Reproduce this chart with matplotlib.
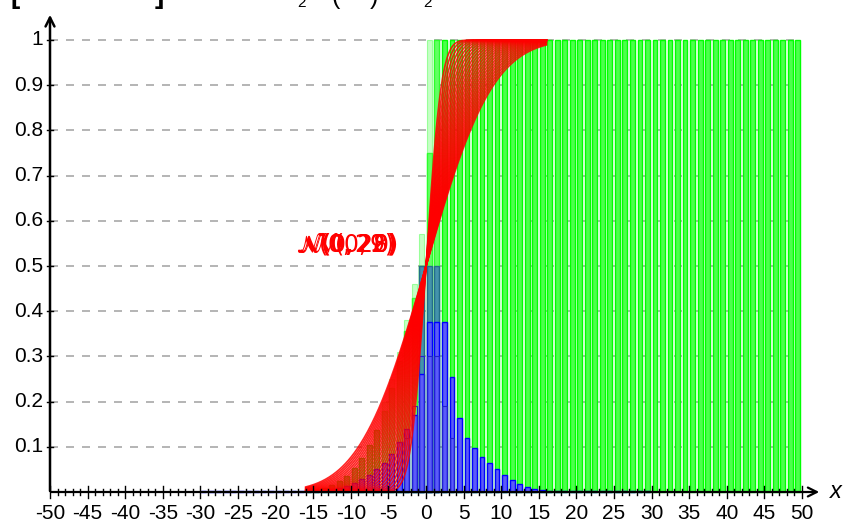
#!/usr/bin/env python3

import math
import matplotlib
matplotlib.use("Agg")
import matplotlib.pyplot as plt
import numpy as np

plt.rcParams["font.family"] = ["Liberation Sans", "DejaVu Sans"]

# ---- data ----
# green (cumulative) bars, k = -16 .. 49
green_k = list(range(-16, 50))
green_h = [0.003, 0.005, 0.009, 0.015, 0.024, 0.036, 0.052, 0.075, 0.103,
           0.138, 0.18, 0.23, 0.29, 0.356, 0.43, 0.5, 0.75] + [1.0] * 49
# paler upper frames of the green bars
green_pale_k = [-6, -5, -4, -3, -2, -1, 0, 1]
green_pale_h = [0.2, 0.25, 0.31, 0.38, 0.46, 0.57, 1.0, 1.0]

# blue (probability) bars, k = -30 .. 29
blue_k = list(range(-30, 30))
blue_h = ([0.002] * 14 +
          [0.002, 0.003, 0.004, 0.006, 0.009, 0.013, 0.02, 0.028, 0.037, 0.05,
           0.065, 0.085, 0.11, 0.14, 0.17, 0.26, 0.377, 0.377, 0.377, 0.255,
           0.164, 0.12, 0.097, 0.078, 0.064, 0.05, 0.037, 0.027, 0.018, 0.012,
           0.0066, 0.0044, 0.003, 0.002] +
          [0.002] * 12)
# teal top of the centre bars (frames reaching 0.5)
blue_top_k = [-1, 0, 1]
blue_top_h = [0.5, 0.5, 0.5]
# lower frames inside the blue bars
blue_inner_k = [-3, -2, -1, 0, 1, 2, 3]
blue_inner_h = [0.12, 0.19, 0.3, 0.3, 0.3, 0.19, 0.12]

# standard deviations of the drawn normal CDF curves
sigmas = [1.6, 1.8, 2.0, 2.2, 2.4, 2.6, 2.8, 3.0, 3.2, 3.4, 3.6, 3.8, 4.0,
          4.2, 4.4, 4.6, 4.8, 5.0, 5.2, 5.4, 5.6, 5.8, 6.0, 6.2, 6.4, 6.6,
          6.8, 7.0]
curve_range = (-16, 16)

labels = [r"$\mathcal{N}(0,20)$", r"$\mathcal{N}(0,28)$", r"$\mathcal{N}(0,2)$",
          r"$\mathcal{N}(0,29)$"]

x_ticks = list(range(-50, 51, 5))
y_ticks = [0.1, 0.2, 0.3, 0.4, 0.5, 0.6, 0.7, 0.8, 0.9, 1.0]

# ---- figure: one axes filling the whole canvas, axes drawn by hand ----
W, H = 843, 524
PX = 7.52      # pixels per x unit
PY = 452.0     # pixels per y unit
X0, Y0 = 426, 492

fig = plt.figure(figsize=(W / 100, H / 100), dpi=100)
ax = fig.add_axes([0, 0, 1, 1])
ax.set_xlim(-X0 / PX, (W - X0) / PX)
ax.set_ylim(-(H - Y0) / PY, Y0 / PY)
ax.axis("off")

# grid
for y in y_ticks:
    ax.plot([-50, 50], [y, y], color="#a8a8a8", lw=1.2,
            linestyle=(0, (4.8, 4.8)), zorder=1)

off = 0.45
wid = 0.64
ax.bar(np.array(green_k) + off, green_h, width=wid, color="#4cff4c",
       edgecolor="#00ff00", linewidth=1.0, zorder=2)
ax.bar(np.array(green_pale_k) + off, green_pale_h, width=wid, color="#80ff80",
       edgecolor="#40ff40", linewidth=0.8, alpha=0.45, zorder=2)

ax.bar(np.array(blue_top_k) + off, blue_top_h, width=wid, color="#3f80b8",
       edgecolor="#1f5f90", linewidth=1.0, alpha=0.85, zorder=3)
ax.bar(np.array(blue_k) + off, blue_h, width=wid, color="#5c5cf6",
       edgecolor="#0000ff", linewidth=1.0, zorder=3)
ax.bar(np.array(blue_inner_k) + off, blue_inner_h, width=wid, color="none",
       edgecolor="#2020d0", linewidth=0.8, zorder=3)

# normal CDF curves
xs = np.linspace(curve_range[0], curve_range[1], 400)
for s in sigmas:
    ys = [0.5 * (1 + math.erf(x / (s * math.sqrt(2)))) for x in xs]
    ax.plot(xs, ys, color="#ff0000", lw=1.2, alpha=0.85, zorder=4)

for i, lab in enumerate(labels):
    ax.text(-3.8 - 0.15 * i, 0.55, lab, color="#ff0000", fontsize=17,
            ha="right", va="center", zorder=5)

# axes lines with arrows
ax.annotate("", xy=(-50, (Y0 - 12) / PY), xytext=(-50, -0.004),
            arrowprops=dict(arrowstyle="->", lw=1.8, color="black",
                            mutation_scale=16), zorder=6)
ax.annotate("", xy=((822 - X0) / PX, 0), xytext=(-50.2, 0),
            arrowprops=dict(arrowstyle="->", lw=1.6, color="black",
                            mutation_scale=16), zorder=6)
ax.text((836 - X0) / PX, 0, "x", fontsize=17, style="italic",
        ha="center", va="center")

# x ticks: minor every 1, major every 5
for i in range(-50, 51):
    d = (6 if i % 5 == 0 else 3) / PY
    ax.plot([i, i], [-d, d], color="black", lw=1.0, zorder=6)
for t in x_ticks:
    ax.text(t, -12 / PY, str(t), fontsize=15, ha="center", va="top")

# y ticks
for t in y_ticks:
    ax.plot([-50 - 3 / PX, -50 + 3 / PX], [t, t], color="black", lw=1.0,
            zorder=6)
    ax.text(-50 - 7 / PX, t, f"{t:g}", fontsize=15, ha="right", va="center")

# clipped title remains at the top edge
fig.text(10 / W, 1 - 9 / H, "[", fontsize=20, ha="left", va="bottom",
         fontweight="bold")
fig.text(155 / W, 1 - 9 / H, "]", fontsize=20, ha="left", va="bottom",
         fontweight="bold")
fig.text(301 / W, 1 - 10 / H, "2", fontsize=11, ha="center", va="bottom")
fig.text(336 / W, 1 - 9 / H, "(", fontsize=18, ha="center", va="bottom")
fig.text(374 / W, 1 - 9 / H, ")", fontsize=18, ha="center", va="bottom")
fig.text(427 / W, 1 - 10 / H, "2", fontsize=11, ha="center", va="bottom")

fig.savefig("out.png", dpi=100)
